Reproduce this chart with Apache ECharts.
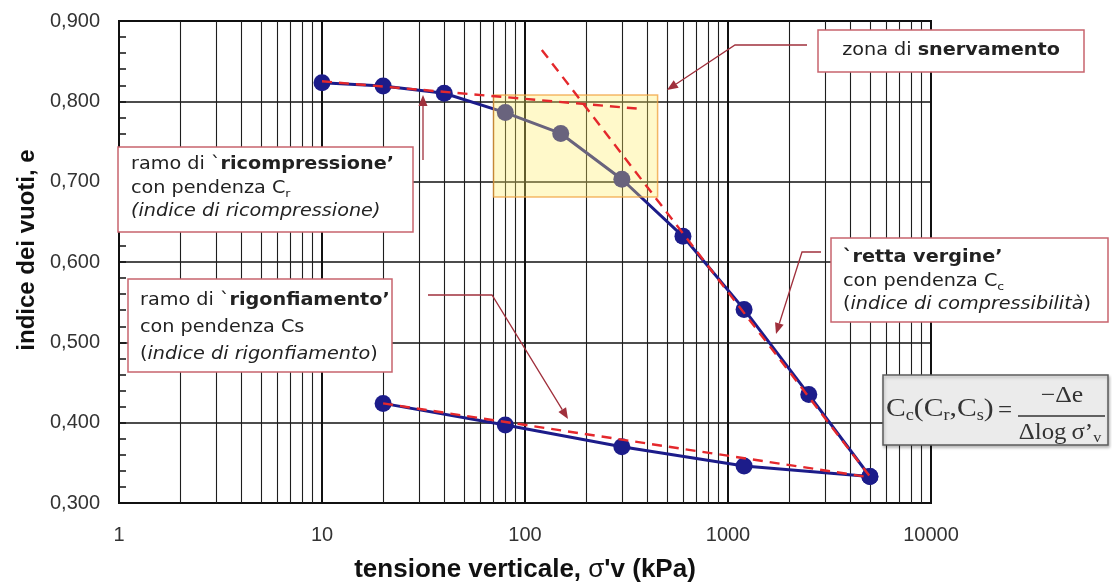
<!DOCTYPE html>
<html>
<head>
<meta charset="utf-8">
<script src="https://cdn.jsdelivr.net/npm/echarts@6/dist/echarts.min.js"></script>
<style>
  html, body { margin: 0; padding: 0; background: #fff; }
  #chart { width: 1112px; height: 588px; }
</style>
</head>
<body>
<div id="chart"></div>
<script>
// Oedometer curve: void ratio e against vertical effective stress (log scale)
const loadStress = [10, 20, 40, 80, 150, 300, 600, 1200, 2500, 5000];
const loadVoid = [0.823, 0.819, 0.810, 0.786, 0.760, 0.703, 0.632, 0.541, 0.435, 0.333];
const unloadStress = [5000, 1200, 300, 80, 20];
const unloadVoid = [0.333, 0.346, 0.370, 0.397, 0.424];

// Straight-line construction on the semi-log plane
const recompressionLine = [[10, 0.825], [355, 0.791]];
const virginLine = [[121, 0.864], [5000, 0.333]];
const swellingLine = [[20, 0.424], [5000, 0.332]];

// Yield zone (stress range, void ratio range)
const yieldZone = [[70, 0.808], [450, 0.681]];

// Axis structure
const xDecades = [1, 10, 100, 1000];
const xMinorMultipliers = [2, 3, 4, 5, 6, 7, 8, 9];
const yMin = 0.3, yMax = 0.9, yStep = 0.1;

const minorX = [];
xDecades.forEach(d => xMinorMultipliers.forEach(m => minorX.push(d * m)));

const pairs = (xs, ys) => xs.map((x, i) => [x, ys[i]]);

const NAVY = '#1c1c8a';
const RED = '#e4282c';
const BOX = '#c8646e';
const ARROW = '#a0303c';
const SANS = '"DejaVu Sans", Verdana, sans-serif';
const ARIAL = '"Liberation Sans", Arial, sans-serif';
const SERIF = '"Liberation Serif", "Times New Roman", serif';

function richStyles(size, lh) {
  return {
    n: { fontFamily: SANS, fontSize: size, lineHeight: lh, fill: '#222' },
    b: { fontFamily: SANS, fontSize: size, lineHeight: lh, fontWeight: 'bold', fill: '#222' },
    i: { fontFamily: SANS, fontSize: size, lineHeight: lh, fontStyle: 'italic', fill: '#222' },
    s: { fontFamily: SANS, fontSize: 11, lineHeight: 13, verticalAlign: 'bottom', fill: '#222' }
  };
}

function box(x, y, w, h) {
  return { type: 'rect', z: 100, shape: { x, y, width: w, height: h },
           style: { fill: '#fff', stroke: BOX, lineWidth: 1.5 } };
}

function note(x, y, text, lh) {
  return { type: 'text', z: 101, x, y, scaleX: 1.13,
           style: { text, align: 'left', verticalAlign: 'top',
                    fontFamily: SANS, fontSize: 17, lineHeight: lh, fill: '#222',
                    rich: richStyles(17, lh) } };
}

function arrow(points) {
  const n = points.length;
  const [x1, y1] = points[n - 2], [x2, y2] = points[n - 1];
  const a = Math.atan2(y2 - y1, x2 - x1);
  const L = 11, W = 4.5;
  const bx = x2 - L * Math.cos(a), by = y2 - L * Math.sin(a);
  const head = [[x2, y2],
                [bx + W * Math.sin(a), by - W * Math.cos(a)],
                [bx - W * Math.sin(a), by + W * Math.cos(a)]];
  return [
    { type: 'polyline', z: 99, shape: { points: points.slice(0, n - 1).concat([[bx, by]]) },
      style: { stroke: ARROW, lineWidth: 1.3, fill: null } },
    { type: 'polygon', z: 99, shape: { points: head }, style: { fill: ARROW } }
  ];
}

const graphics = [
  // yield zone note
  box(818, 30, 266, 42),
  { type: 'text', z: 101, x: 951, y: 51, scaleX: 1.13,
    style: { text: '{n|zona di }{b|snervamento}', align: 'center', verticalAlign: 'middle',
             fontFamily: SANS, fontSize: 17, rich: richStyles(17, 23.5) } },
  ...arrow([[807, 45], [735, 45], [667, 90]]),

  // recompression branch note
  box(118, 147, 295, 85),
  note(131, 153, '{n|ramo di `}{b|ricompressione\u2019}\n{n|con pendenza C}{s|r}\n{i|(indice di ricompressione)}', 23.5),
  ...arrow([[423, 160], [423, 95]]),

  // swelling branch note
  box(128, 279, 264, 93),
  note(140, 287, '{n|ramo di `}{b|rigonfiamento\u2019}\n{n|con pendenza Cs}\n{n|(}{i|indice di rigonfiamento}{n|)}', 27),
  ...arrow([[428, 295], [492, 295], [568, 419]]),

  // virgin compression line note
  box(831, 238, 277, 84),
  note(843, 246, '{b|`retta vergine\u2019}\n{n|con pendenza C}{s|c}\n{n|(}{i|indice di compressibilit\u00e0}{n|)}', 23.5),
  ...arrow([[821, 252], [802, 252], [776, 334]]),

  // compression index definition
  { type: 'rect', z: 100, shape: { x: 883, y: 375, width: 225, height: 70 },
    style: { fill: '#ebebeb', stroke: '#5c5c5c', lineWidth: 1.5,
             shadowBlur: 3, shadowOffsetX: 1, shadowOffsetY: 2, shadowColor: 'rgba(0,0,0,0.25)' } },
  { type: 'text', z: 101, x: 886, y: 409, scaleX: 1.14,
    style: { text: '{C|C}{s|c}{C|(C}{s|r}{C|,C}{s|s}{C|)}', align: 'left', verticalAlign: 'middle',
             fontFamily: SERIF, fontSize: 26,
             rich: {
               C: { fontFamily: SERIF, fontSize: 26, lineHeight: 29, fill: '#333' },
               s: { fontFamily: SERIF, fontSize: 16, lineHeight: 16, verticalAlign: 'bottom', fill: '#333' }
             } } },
  { type: 'text', z: 101, x: 1005, y: 411,
    style: { text: '=', align: 'center', verticalAlign: 'middle', fontFamily: SERIF, fontSize: 25, fill: '#333' } },
  { type: 'line', z: 101, shape: { x1: 1018, y1: 416, x2: 1105, y2: 416 },
    style: { stroke: '#333', lineWidth: 1.3 } },
  { type: 'text', z: 101, x: 1062, y: 396, scaleX: 1.12,
    style: { text: '\u2212\u0394e', align: 'center', verticalAlign: 'middle', fontFamily: SERIF, fontSize: 23, fill: '#333' } },
  { type: 'text', z: 101, x: 1060, y: 433, scaleX: 1.08,
    style: { text: '{C|\u0394log\u2009\u03c3\u2019}{s|v}', align: 'center', verticalAlign: 'middle',
             fontFamily: SERIF, fontSize: 23,
             rich: {
               C: { fontFamily: SERIF, fontSize: 23, lineHeight: 26, fill: '#333' },
               s: { fontFamily: SERIF, fontSize: 15, lineHeight: 15, verticalAlign: 'bottom', fill: '#333' }
             } } }
];

const chart = echarts.init(document.getElementById('chart'));
chart.setOption({
  animation: false,
  backgroundColor: '#fff',
  grid: { left: 119, right: 181, top: 21, bottom: 84, show: true,
          borderColor: '#111', borderWidth: 2, backgroundColor: 'transparent' },
  xAxis: {
    type: 'log', logBase: 10, min: 1, max: 10000,
    name: '{b|tensione verticale, }{g|\u03c3}{b|\'v (kPa)}',
    nameLocation: 'middle', nameGap: 54,
    nameTextStyle: {
      rich: {
        b: { fontFamily: ARIAL, fontSize: 26, fontWeight: 'bold', color: '#111' },
        g: { fontFamily: ARIAL, fontSize: 26, fontWeight: 'normal', color: '#111' }
      }
    },
    axisLine: { show: true, lineStyle: { color: '#111', width: 2 } },
    axisTick: { show: false },
    axisLabel: { margin: 22, fontFamily: ARIAL, fontSize: 20, color: '#333',
                 formatter: v => String(Math.round(v)) },
    splitLine: { show: true, lineStyle: { color: '#111', width: 2 } }
  },
  yAxis: {
    type: 'value', min: yMin, max: yMax, interval: yStep,
    name: 'indice dei vuoti, e', nameLocation: 'middle', nameGap: 80,
    nameTextStyle: { fontFamily: ARIAL, fontSize: 24, fontWeight: 'bold', color: '#111',
                     padding: [0, 0, 0, 24] },
    axisLine: { show: true, lineStyle: { color: '#111', width: 2 } },
    axisTick: { show: true, inside: true, length: 7, lineStyle: { color: '#111', width: 1.5 } },
    minorTick: { show: true, splitNumber: 5, length: 7, lineStyle: { color: '#111', width: 1.5 } },
    axisLabel: { margin: 19, fontFamily: ARIAL, fontSize: 20, color: '#333',
                 formatter: v => v.toFixed(3).replace('.', ',') },
    splitLine: { show: true, lineStyle: { color: '#111', width: 1.6 } }
  },
  series: [
    {
      // intermediate log grid lines (2..9 within each decade)
      type: 'line', data: [], z: 1, silent: true,
      markLine: {
        silent: true, symbol: 'none', z: 1, animation: false,
        label: { show: false },
        lineStyle: { color: '#1e1e1e', width: 1.1, type: 'solid' },
        emphasis: { disabled: true },
        data: minorX.map(v => ({ xAxis: v }))
      }
    },
    {
      name: 'carico', type: 'line', z: 2, data: pairs(loadStress, loadVoid),
      symbol: 'circle', symbolSize: 17,
      lineStyle: { color: NAVY, width: 3 }, itemStyle: { color: NAVY }
    },
    {
      name: 'scarico', type: 'line', z: 2, data: pairs(unloadStress, unloadVoid),
      symbol: 'circle', symbolSize: 17,
      lineStyle: { color: NAVY, width: 3 }, itemStyle: { color: NAVY }
    },
    {
      // yield zone highlight, laid over the curve
      type: 'line', data: [], z: 3, silent: true,
      markArea: {
        silent: true, z: 3,
        itemStyle: { color: 'rgba(255,236,100,0.34)', borderColor: 'rgba(240,160,60,0.75)', borderWidth: 1.5 },
        data: [[{ coord: yieldZone[0] }, { coord: yieldZone[1] }]]
      }
    },
    { type: 'line', z: 4, data: recompressionLine, showSymbol: false, silent: true,
      lineStyle: { color: RED, width: 2.4, type: [10, 7] } },
    { type: 'line', z: 4, data: virginLine, showSymbol: false, silent: true,
      lineStyle: { color: RED, width: 2.4, type: [10, 7] } },
    { type: 'line', z: 4, data: swellingLine, showSymbol: false, silent: true,
      lineStyle: { color: RED, width: 2.4, type: [10, 7] } }
  ],
  graphic: { elements: graphics }
});
</script>
</body>
</html>
